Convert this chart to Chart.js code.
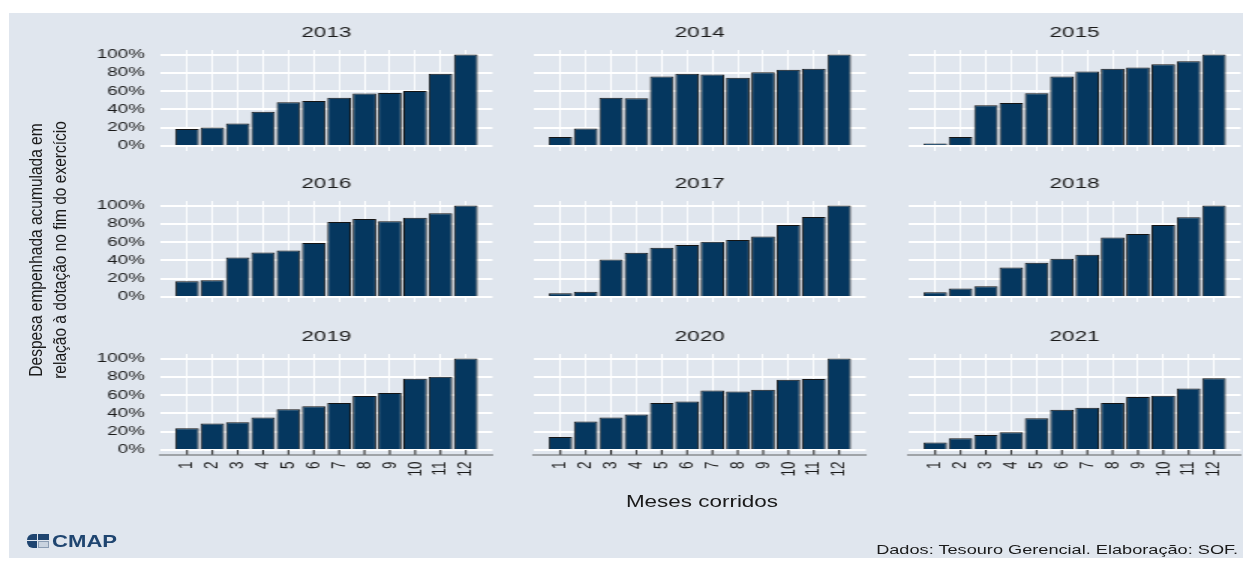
<!DOCTYPE html>
<html lang="pt-BR">
<head>
<meta charset="utf-8">
<title>Despesa empenhada acumulada</title>
<script src="https://cdn.jsdelivr.net/npm/chart.js@4.4.1/dist/chart.umd.min.js"></script>
<style>
  html, body { margin: 0; padding: 0; background: #fff; }
  body { width: 1243px; height: 561px; position: relative; overflow: hidden;
         font-family: "Liberation Sans", Arial, sans-serif; color: #1a1a1a; }
  #fundo { position: absolute; left: 9px; top: 13px; width: 1234px; height: 545px; background: #e0e6ee; }
  /* o original está esticado na horizontal, por isso o palco é escalado */
  #palco { position: absolute; left: 0; top: 0; width: 829px; height: 561px;
           transform: scaleX(1.4994); transform-origin: 0 0; }
  #palco canvas { position: absolute; }
  .texto { position: absolute; white-space: nowrap; }
  #tituloY { left: -102px; top: 230px; width: 300px; height: 40px; font-size: 15.5px; line-height: 20px;
             text-align: center; transform: rotate(-90deg) scaleY(1.2); }
  #tituloX { left: 502px; top: 492px; width: 400px; font-size: 17px; line-height: 20px;
             text-align: center; transform: scaleX(1.32); }
  #fonte { right: 5px; top: 542px; font-size: 13.5px; line-height: 16px;
           transform: scaleX(1.345); transform-origin: right center; }
  #logo { left: 27px; top: 534px; width: 22px; height: 14px; }
  #logo div { position: absolute; background: #1f4570; }
  #logoTexto { left: 52px; top: 532px; font-size: 16.5px; line-height: 18px; font-weight: bold;
               color: #1f4570; transform: scaleX(1.34); transform-origin: left center; }
</style>
</head>
<body>
<div id="fundo"></div>
<div id="palco"></div>
<div class="texto" id="tituloY">Despesa empenhada acumulada em<br>relação à dotação no fim do exercício</div>
<div class="texto" id="tituloX">Meses corridos</div>
<div class="texto" id="fonte">Dados: Tesouro Gerencial. Elaboração: SOF.</div>
<div class="texto" id="logo">
  <div style="left:0;top:0;width:10px;height:6px;border-top-left-radius:6px;"></div>
  <div style="left:11px;top:0;width:11px;height:6px;"></div>
  <div style="left:0;top:7px;width:10px;height:7px;border-bottom-left-radius:6px;"></div>
  <div style="left:11px;top:7px;width:9px;height:5px;background:#c9d3df;border:1px solid #8b9db3;"></div>
</div>
<div class="texto" id="logoTexto">CMAP</div>

<script>
"use strict"

// Dados (% da dotação empenhada no mês)
const anos = ["2013", "2014", "2015", "2016", "2017", "2018", "2019", "2020", "2021"];
const meses = [1, 2, 3, 4, 5, 6, 7, 8, 9, 10, 11, 12];
const ticksY = [0, 20, 40, 60, 80, 100];

const valores2013 = [18.5, 20.3, 24.7, 37.4, 47.8, 49.3, 52.9, 57.3, 58.0, 60.2, 79.0, 100];
const valores2014 = [9.8, 19.2, 52.9, 52.2, 76.1, 79.0, 78.3, 74.6, 80.8, 83.3, 84.4, 100];
const valores2015 = [2.9, 9.8, 44.6, 47.1, 57.6, 76.1, 81.5, 84.4, 85.9, 89.5, 92.8, 100];
const valores2016 = [17.2, 18.3, 43.2, 48.7, 50.9, 59.0, 82.0, 85.3, 82.8, 86.8, 91.6, 100];
const valores2017 = [4.0, 5.9, 41.0, 48.4, 53.8, 56.8, 60.4, 62.3, 66.3, 78.8, 87.5, 100];
const valores2018 = [5.1, 9.2, 11.7, 32.2, 37.4, 41.8, 46.2, 65.2, 68.9, 78.8, 87.2, 100];
const valores2019 = [23.8, 28.9, 30.4, 35.5, 44.7, 48.0, 51.3, 59.0, 62.3, 78.0, 80.2, 100];
const valores2020 = [14.3, 31.1, 35.5, 38.8, 51.3, 53.1, 65.2, 64.1, 65.9, 76.9, 77.7, 100];
const valores2021 = [8.1, 12.8, 16.5, 19.4, 34.8, 44.0, 46.2, 51.3, 57.9, 59.3, 67.4, 78.4];

const valoresPorAno = [valores2013, valores2014, valores2015, valores2016, valores2017,
                       valores2018, valores2019, valores2020, valores2021];

Chart.defaults.font.family = '"Liberation Sans", Arial, sans-serif';
Chart.defaults.color = "#1a1a1a";

// Geometria (coordenadas do palco, que é esticado 1.4994x na horizontal)
const ESCALA = 1243 / 829;
const colunasX = [161, 534.3, 909.3].map(x => x / ESCALA);
const linhasY = [49.5, 200.9, 353.6];
const largPlot = 332 / ESCALA;
const altPlot = 100.6;
const larguraEixoY = 45;
const alturaTitulo = 30;

// Pequenos traços pretos entre o 0% e a linha do eixo (só na última linha)
const tracosEixo = {
    id: "tracosEixo",
    afterDatasetsDraw(chart) {
        const x = chart.scales.x;
        const y = chart.scales.y;
        const ctx = chart.ctx;
        ctx.save();
        ctx.strokeStyle = "#111";
        ctx.lineWidth = 1;
        x.ticks.forEach(t => {
            const px = x.getPixelForValue(t.value);
            ctx.beginPath();
            ctx.moveTo(px, y.getPixelForValue(0));
            ctx.lineTo(px, chart.chartArea.bottom);
            ctx.stroke();
        });
        ctx.restore();
    }
};

const palco = document.getElementById("palco");

anos.forEach((ano, i) => {
    const linha = Math.floor(i / 3);
    const coluna = i % 3;
    const base = linha === 2;
    const primeiraColuna = coluna === 0;

    const largura = 271;
    const altura = base ? 161 : 135;
    const padBaixo = base ? 2 : altura - alturaTitulo - altPlot;
    const alturaEixoX = base ? altura - alturaTitulo - altPlot - padBaixo : 0;

    const canvas = document.createElement("canvas");
    canvas.width = largura;
    canvas.height = altura;
    canvas.style.left = (colunasX[coluna] - larguraEixoY) + "px";
    canvas.style.top = (linhasY[linha] - alturaTitulo) + "px";
    palco.appendChild(canvas);

    new Chart(canvas.getContext("2d"), {
        type: "bar",
        data: {
            datasets: [{
                data: meses.map((m, k) => ({ x: m, y: valoresPorAno[i][k] })),
                backgroundColor: "#05375f",
                borderColor: "#141414",
                borderWidth: 1,
                categoryPercentage: 1,
                barPercentage: 0.93
            }]
        },
        options: {
            responsive: false,
            animation: false,
            devicePixelRatio: 1,
            layout: { padding: { left: 0, right: largura - larguraEixoY - largPlot, top: 0, bottom: padBaixo } },
            plugins: {
                legend: { display: false },
                tooltip: { enabled: false },
                title: {
                    display: true,
                    text: ano,
                    fullSize: false,
                    color: "#1a1a1a",
                    font: { size: 15, weight: "normal" },
                    padding: { top: 4, bottom: 8 }
                }
            },
            scales: {
                x: {
                    type: "linear",
                    min: -0.05,
                    max: 13.05,
                    bounds: "data",
                    offset: false,
                    afterBuildTicks: s => { s.ticks = meses.map(m => ({ value: m })); },
                    afterFit: s => {
                        s.height = alturaEixoX;
                        s.paddingLeft = 0;
                        s.paddingRight = 0;
                    },
                    grid: { color: "#ffffff", lineWidth: 1, drawTicks: false, offset: false },
                    border: { display: base, color: "#a0a4a8", width: 2 },
                    ticks: {
                        display: base,
                        autoSkip: false,
                        minRotation: 90,
                        maxRotation: 90,
                        padding: 7,
                        color: "#1a1a1a",
                        font: { size: 13.5 }
                    }
                },
                y: {
                    min: -5,
                    max: 105,
                    bounds: "data",
                    afterBuildTicks: s => { s.ticks = ticksY.map(v => ({ value: v })); },
                    afterFit: s => {
                        s.width = larguraEixoY;
                        s.paddingTop = 0;
                        s.paddingBottom = 0;
                    },
                    grid: { color: "#ffffff", lineWidth: 2, drawTicks: false },
                    border: { display: false },
                    ticks: {
                        display: primeiraColuna,
                        autoSkip: false,
                        padding: 10.5,
                        color: "#1a1a1a",
                        font: { size: 12.5 },
                        callback: v => v + "%"
                    }
                }
            }
        },
        plugins: base ? [tracosEixo] : []
    });
});
</script>
</body>
</html>
